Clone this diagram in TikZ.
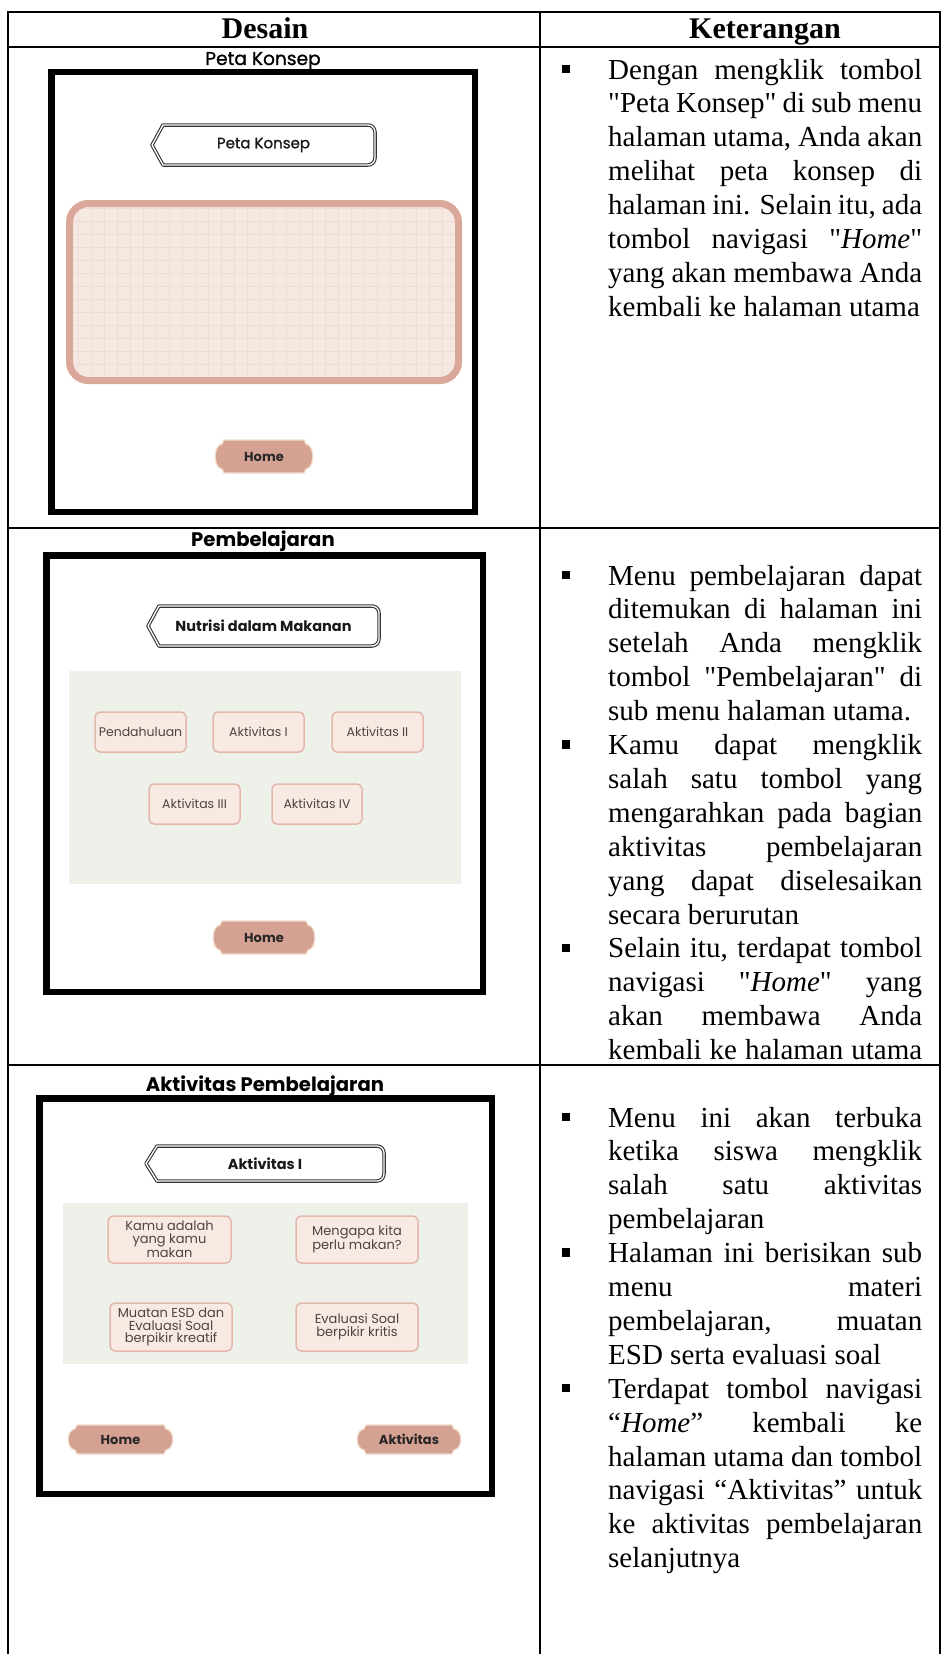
\documentclass[tikz,border=0pt]{standalone}
\usepackage{fontspec}
\setmainfont{Liberation Serif}
\newfontfamily\sqf{Liberation Serif}
\newfontfamily\pop{Poppins}
\newfontfamily\popm[FakeBold=1.1]{Poppins}
\definecolor{pinkedge}{HTML}{D9A89B}
\definecolor{pinkfill}{HTML}{F6E9E1}
\definecolor{gridc}{HTML}{EFDDD4}
\definecolor{navfill}{HTML}{D5A193}
\definecolor{navedge}{HTML}{F0DCCB}
\definecolor{panelc}{HTML}{EEF0EA}
\definecolor{btnfill}{HTML}{F8EAE3}
\definecolor{btnedge}{HTML}{E3B9AC}
\definecolor{btntxt}{HTML}{4F4341}
\newlength\txtw
\setlength\txtw{314pt}
\def\rowA{79}
\def\rowB{585}
\def\rowC{1127}
\def\lsp{33.9}
\newcommand\sq{{\sqf"}}
% header button with chevron left end
\newcommand\ttlbtn[7][]{%
  \draw[ttlb] ({#3+11},#4) -- ({#5-7},#4) arc[start angle=-90,end angle=0,radius=7]
     -- (#5,{#6-7}) arc[start angle=0,end angle=90,radius=7]
     -- ({#3+11},#6) -- (#3,{(#4+#6)/2}) -- cycle;
  \node[ttltxt,#1] (#2) at ({(#3+#5)/2},{(#4+#6)/2}) {#7};}
% navigation button
\newcommand\navbtn[6]{%
  \path[navbg] ({#2+9},#3) -- ({#4-9},#3) -- ({#4-7},{#3+4})
     .. controls ({#4+2},{#3+5}) and ({#4+2},{#5-5}) .. ({#4-7},{#5-4})
     -- ({#4-9},#5) -- ({#2+9},#5) -- ({#2+7},{#5-4})
     .. controls ({#2-2},{#5-5}) and ({#2-2},{#3+5}) .. ({#2+7},{#3+4}) -- cycle;
  \node[navtxt] (#1) at ({(#2+#4)/2},{(#3+#5)/2}) {#6};}
% small menu button
\newcommand\smbtn[7][]{%
  \draw[smbox] (#3,#4) rectangle (#5,#6);
  \node[smtxt,#1] (#2) at ({(#3+#5)/2},{(#4+#6)/2}) {#7};}
% text line of the right column
\newcommand\txl[4]{\node[desc] (#1) at (608,{#2}) {\makebox[\txtw][#3]{#4}};}
\newcommand\bul[2]{\node[bulsq] (#1) at (566,{#2-10}) {};}
\begin{document}
\begin{tikzpicture}[x=1pt,y=-1pt,
  tab/.style={draw=black,line width=1.3pt},
  hdr/.style={font=\fontsize{30}{36}\selectfont\bfseries,inner sep=0,anchor=base},
  ttl/.style={font=\popm\fontsize{18.6}{22}\selectfont,inner sep=0,anchor=base},
  ttlbold/.style={font=\pop\bfseries\fontsize{19.6}{24}\selectfont,inner sep=0,anchor=base},
  frm/.style={draw=black,line width=6.5pt},
  ttlb/.style={draw=black!80,double=white,double distance=1.3pt,line width=1.1pt,line join=round},
  ttltxt/.style={font=\popm\fontsize{15}{18}\selectfont,inner sep=0,text=black!90},
  navbg/.style={fill=navfill,draw=navedge,line width=1.2pt},
  navtxt/.style={font=\pop\bfseries\fontsize{13}{15}\selectfont,inner sep=0,text=black!85},
  smbox/.style={fill=btnfill,draw=btnedge,line width=1.5pt,rounded corners=5pt},
  smtxt/.style={font=\pop\fontsize{12.5}{12.6}\selectfont,inner sep=0,text=btntxt,align=center},
  smtxt3/.style={font=\pop\fontsize{13}{12.6}\selectfont},
  desc/.style={font=\fontsize{29}{34}\selectfont,inner sep=0,anchor=base west},
  bulsq/.style={fill=black,inner sep=0,minimum size=8.5pt,rectangle}]
\useasboundingbox (0,0) rectangle (943,1654);
\fill[white] (0,0) rectangle (943,1654);

% ---------- table ----------
\draw[tab] (8,1654) -- (8,12) -- (940,12) -- (940,1654);
\draw[tab] (540,12) -- (540,1654);
\draw[tab] (8,47) -- (940,47);
\draw[tab] (8,528) -- (940,528);
\draw[tab] (8,1065) -- (940,1065);
\node[hdr] (hdL) at (265,39) {Desain};
\node[hdr] (hdR) at (765,39) {Keterangan};

% ---------- row 1 : Peta Konsep ----------
\node[ttl] (t1) at (263,65) {Peta Konsep};
\draw[frm] (51.25,72.25) rectangle (474.75,511.75);
\ttlbtn{h1}{152}{125}{375}{165}{Peta Konsep}
\begin{scope}
  \clip[rounded corners=22pt] (66,200) rectangle (462,384);
  \fill[pinkfill] (66,200) rectangle (462,384);
  \draw[gridc,line width=0.6pt,step=13pt] (66,200) grid (462,384);
\end{scope}
\draw[pinkedge,line width=7pt,rounded corners=19pt] (69.5,203.5) rectangle (458.5,380.5);
\navbtn{home1}{215}{440}{313}{473}{Home}

% ---------- row 2 : Pembelajaran ----------
\node[ttlbold] (t2) at (263,546) {Pembelajaran};
\draw[frm] (46.25,555.25) rectangle (482.75,991.75);
\ttlbtn[font=\pop\bfseries\fontsize{14.5}{17}\selectfont]{h2}{148}{606}{379}{646}{Nutrisi dalam Makanan}
\fill[panelc] (69,671) rectangle (461,884);
\smbtn{p1}{95}{712}{186}{752}{Pendahuluan}
\smbtn{p2}{213}{712}{304}{752}{Aktivitas I}
\smbtn{p3}{332}{712}{423}{752}{Aktivitas II}
\smbtn{p4}{149}{784}{240}{824}{Aktivitas III}
\smbtn{p5}{272}{784}{362}{824}{Aktivitas IV}
\navbtn{home2}{213}{921}{315}{954}{Home}

% ---------- row 3 : Aktivitas Pembelajaran ----------
\node[ttlbold] (t3) at (265,1091) {Aktivitas Pembelajaran};
\draw[frm] (39.25,1098.25) rectangle (491.75,1493.75);
\ttlbtn[font=\pop\bfseries\fontsize{14.5}{17}\selectfont]{h3}{146}{1146}{384}{1181}{Aktivitas I}
\fill[panelc] (63,1203) rectangle (468,1364);
\smbtn[smtxt3]{a1}{108}{1216}{231}{1263}{Kamu adalah\\yang kamu\\makan}
\smbtn[smtxt3]{a2}{296}{1216}{418}{1263}{Mengapa kita\\perlu makan?}
\smbtn[smtxt3]{a3}{110}{1303}{232}{1351}{Muatan ESD dan\\Evaluasi Soal\\berpikir kreatif}
\smbtn[smtxt3]{a4}{296}{1303}{418}{1351}{Evaluasi Soal\\berpikir kritis}
\navbtn{home3}{68}{1425}{173}{1454}{Home}
\navbtn{nxt3}{357}{1425}{461}{1454}{Aktivitas}

% ---------- right column, row 1 ----------
\bul{u1}{\rowA}
\txl{r1a}{\rowA}{s}{Dengan mengklik tombol}
\txl{r1b}{\rowA+\lsp}{s}{\sq Peta Konsep\sq{} di sub menu}
\txl{r1c}{\rowA+2*\lsp}{s}{halaman utama, Anda akan}
\txl{r1d}{\rowA+3*\lsp}{s}{melihat peta konsep di}
\txl{r1e}{\rowA+4*\lsp}{s}{halaman ini. Selain itu, ada}
\txl{r1f}{\rowA+5*\lsp}{s}{tombol navigasi \sq\textit{Home}\sq}
\txl{r1g}{\rowA+6*\lsp}{s}{yang akan membawa Anda}
\txl{r1h}{\rowA+7*\lsp}{l}{kembali ke halaman utama}

% ---------- right column, row 2 ----------
\bul{u2}{\rowB}
\txl{r2a}{\rowB}{s}{Menu pembelajaran dapat}
\txl{r2b}{\rowB+\lsp}{s}{ditemukan di halaman ini}
\txl{r2c}{\rowB+2*\lsp}{s}{setelah Anda mengklik}
\txl{r2d}{\rowB+3*\lsp}{s}{tombol \sq Pembelajaran\sq{} di}
\txl{r2e}{\rowB+4*\lsp}{l}{sub menu halaman utama.}
\bul{u3}{\rowB+5*\lsp}
\txl{r2f}{\rowB+5*\lsp}{s}{Kamu dapat mengklik}
\txl{r2g}{\rowB+6*\lsp}{s}{salah satu tombol yang}
\txl{r2h}{\rowB+7*\lsp}{s}{mengarahkan pada bagian}
\txl{r2i}{\rowB+8*\lsp}{s}{aktivitas pembelajaran}
\txl{r2j}{\rowB+9*\lsp}{s}{yang dapat diselesaikan}
\txl{r2k}{\rowB+10*\lsp}{l}{secara berurutan}
\bul{u4}{\rowB+11*\lsp}
\txl{r2l}{\rowB+11*\lsp}{s}{Selain itu, terdapat tombol}
\txl{r2m}{\rowB+12*\lsp}{s}{navigasi \sq\textit{Home}\sq{} yang}
\txl{r2n}{\rowB+13*\lsp}{s}{akan membawa Anda}
\txl{r2o}{\rowB+14*\lsp}{s}{kembali ke halaman utama}

% ---------- right column, row 3 ----------
\bul{u5}{\rowC}
\txl{r3a}{\rowC}{s}{Menu ini akan terbuka}
\txl{r3b}{\rowC+\lsp}{s}{ketika siswa mengklik}
\txl{r3c}{\rowC+2*\lsp}{s}{salah satu aktivitas}
\txl{r3d}{\rowC+3*\lsp}{l}{pembelajaran}
\bul{u6}{\rowC+4*\lsp}
\txl{r3e}{\rowC+4*\lsp}{s}{Halaman ini berisikan sub}
\txl{r3f}{\rowC+5*\lsp}{s}{menu materi}
\txl{r3g}{\rowC+6*\lsp}{s}{pembelajaran, muatan}
\txl{r3h}{\rowC+7*\lsp}{l}{ESD serta evaluasi soal}
\bul{u7}{\rowC+8*\lsp}
\txl{r3i}{\rowC+8*\lsp}{s}{Terdapat tombol navigasi}
\txl{r3j}{\rowC+9*\lsp}{s}{“\textit{Home}” kembali ke}
\txl{r3k}{\rowC+10*\lsp}{s}{halaman utama dan tombol}
\txl{r3l}{\rowC+11*\lsp}{s}{navigasi “Aktivitas” untuk}
\txl{r3m}{\rowC+12*\lsp}{s}{ke aktivitas pembelajaran}
\txl{r3n}{\rowC+13*\lsp}{l}{selanjutnya}
\end{tikzpicture}
\end{document}
